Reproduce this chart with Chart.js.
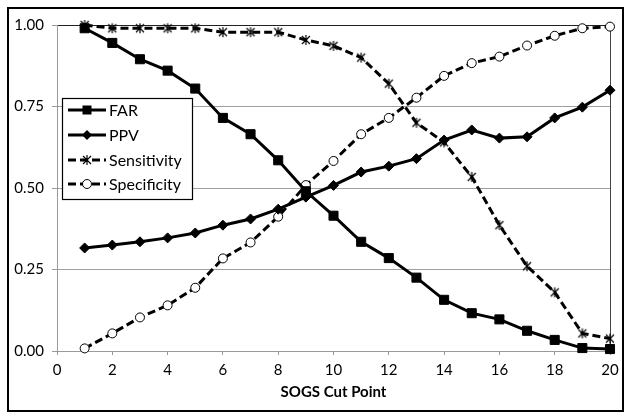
<!DOCTYPE html>
<html lang="en">
<head>
    <meta charset="UTF-8">
    <script src="https://cdn.jsdelivr.net/npm/chart.js"></script>
    <title>SOGS Cut Point</title>
    <style>
        body { margin: 0; background: #fff; }
        .container { width: 632px; height: 420px; }
    </style>
</head>
<body>
    <div class="container">
        <canvas id="mychart" width="632" height="420"></canvas>
    </div>

    <script>
// values
const cutPoints = [1,2,3,4,5,6,7,8,9,10,11,12,13,14,15,16,17,18,19,20];
const far = [0.99,0.945,0.895,0.86,0.805,0.715,0.665,0.585,0.49,0.415,0.335,0.285,0.225,0.157,0.116,0.097,0.062,0.034,0.009,0.006];
const ppv = [0.316,0.325,0.335,0.347,0.362,0.386,0.405,0.435,0.472,0.508,0.549,0.567,0.59,0.647,0.678,0.653,0.657,0.715,0.748,0.80];
const sensitivity = [1.0,0.99,0.99,0.99,0.99,0.978,0.978,0.978,0.954,0.936,0.90,0.82,0.70,0.64,0.534,0.386,0.26,0.18,0.054,0.038];
const specificity = [0.008,0.054,0.103,0.14,0.194,0.284,0.333,0.412,0.509,0.583,0.665,0.715,0.777,0.844,0.883,0.903,0.937,0.967,0.99,0.995];
const xTicks = [0,2,4,6,8,10,12,14,16,18,20];
const yTicks = [0,0.25,0.5,0.75,1];

function pts(values) {
    return cutPoints.map((x, i) => ({ x: x, y: values[i] }));
}

// excel style asterisk marker
function asterisk() {
    let c = document.createElement('canvas');
    c.width = 12; c.height = 12;
    let g = c.getContext('2d');
    g.strokeStyle = '#000';
    g.lineWidth = 1.2;
    g.beginPath();
    g.moveTo(2, 2); g.lineTo(10, 10);
    g.moveTo(10, 2); g.lineTo(2, 10);
    g.moveTo(6, 1); g.lineTo(6, 11);
    g.stroke();
    return c;
}
const starMark = asterisk();

function marker(ctx, kind, x, y) {
    ctx.save();
    ctx.setLineDash([]);
    ctx.fillStyle = '#000';
    ctx.strokeStyle = '#000';
    ctx.lineWidth = 1;
    if (kind === 'rect') {
        ctx.fillRect(x - 4.5, y - 4.5, 9, 9);
    } else if (kind === 'rectRot') {
        ctx.beginPath();
        ctx.moveTo(x, y - 5); ctx.lineTo(x + 5, y); ctx.lineTo(x, y + 5); ctx.lineTo(x - 5, y);
        ctx.closePath(); ctx.fill();
    } else if (kind === 'circle') {
        ctx.fillStyle = '#fff';
        ctx.beginPath(); ctx.arc(x, y, 4.5, 0, Math.PI * 2); ctx.fill(); ctx.stroke();
    } else {
        ctx.drawImage(starMark, x - 6, y - 6);
    }
    ctx.restore();
}

const frameAndLegend = {
    id: 'frameAndLegend',
    afterDraw(chart) {
        let ctx = chart.ctx;
        ctx.save();
        // outer frame
        ctx.strokeStyle = '#000';
        ctx.lineWidth = 2;
        ctx.strokeRect(8, 8, 615, 403);
        // legend box
        ctx.fillStyle = '#fff';
        ctx.fillRect(62.5, 98.5, 130, 101);
        ctx.lineWidth = 1.2;
        ctx.strokeRect(62.5, 98.5, 130, 101);
        ctx.font = '16px Lato';
        ctx.textBaseline = 'middle';
        let rows = [110, 135, 160, 184];
        chart.data.datasets.forEach((ds, i) => {
            let y = rows[i];
            ctx.strokeStyle = '#000';
            ctx.lineWidth = 3;
            ctx.setLineDash(ds.borderDash || []);
            ctx.beginPath();
            ctx.moveTo(68, y); ctx.lineTo(106, y);
            ctx.stroke();
            ctx.setLineDash([]);
            marker(ctx, ds.mark, 87, y);
            ctx.fillStyle = '#000';
            ctx.fillText(ds.label, 109, y + 1);
        });
        ctx.restore();
    }
};

let mychart = document.getElementById('mychart').getContext('2d');
let charts = new Chart(mychart, {
    type: 'line',
    data: {
        datasets: [
            { label: 'FAR', data: pts(far), mark: 'rect', pointStyle: 'rect', pointRadius: 6.4,
              borderColor: '#000', backgroundColor: '#000', borderWidth: 3 },
            { label: 'PPV', data: pts(ppv), mark: 'rectRot', pointStyle: 'rectRot', pointRadius: 5,
              borderColor: '#000', backgroundColor: '#000', borderWidth: 3 },
            { label: 'Sensitivity', data: pts(sensitivity), mark: 'star', pointStyle: starMark,
              borderColor: '#000', backgroundColor: '#000', borderWidth: 3, borderDash: [8, 4] },
            { label: 'Specificity', data: pts(specificity), mark: 'circle', pointStyle: 'circle', pointRadius: 4.5,
              borderColor: '#000', backgroundColor: '#fff', borderWidth: 3, borderDash: [8, 4],
              pointBorderWidth: 1 }
        ]
    },
    options: {
        responsive: false,
        animation: false,
        layout: { padding: { left: 8, right: 22, top: 25, bottom: 15 } },
        elements: { line: { tension: 0 }, point: { pointBorderWidth: 1 } },
        datasets: { line: { clip: false, pointBorderWidth: 1 } },
        plugins: { legend: { display: false }, tooltip: { enabled: false } },
        scales: {
            x: {
                type: 'linear', min: 0, max: 20,
                afterBuildTicks: (s) => { s.ticks = xTicks.map(v => ({ value: v })); },
                afterFit: (s) => { s.height = 54; },
                grid: {
                    color: (c) => c.tick && c.tick.value === 20 ? '#444' : 'rgba(0,0,0,0)',
                    tickColor: '#9a9a9a', tickLength: 4, lineWidth: 1
                },
                border: { color: '#9a9a9a', width: 1 },
                ticks: { color: '#000', font: { family: 'Lato', size: 15 }, padding: 6, maxRotation: 0 },
                title: { display: true, text: 'SOGS Cut Point', color: '#000',
                         font: { family: 'Lato', size: 15, weight: 'bold' }, padding: 4 }
            },
            y: {
                min: 0, max: 1,
                afterBuildTicks: (s) => { s.ticks = yTicks.map(v => ({ value: v })); },
                afterFit: (s) => { s.width = 49; },
                grid: {
                    color: (c) => c.tick && c.tick.value === 1 ? '#222' : '#a0a0a0',
                    tickColor: '#9a9a9a', tickLength: 5, lineWidth: 1
                },
                border: { color: '#9a9a9a', width: 1 },
                ticks: { color: '#000', font: { family: 'Lato', size: 15 }, padding: 8,
                         callback: (v) => v.toFixed(2) }
            }
        }
    },
    plugins: [frameAndLegend]
});
    </script>
</body>
</html>
